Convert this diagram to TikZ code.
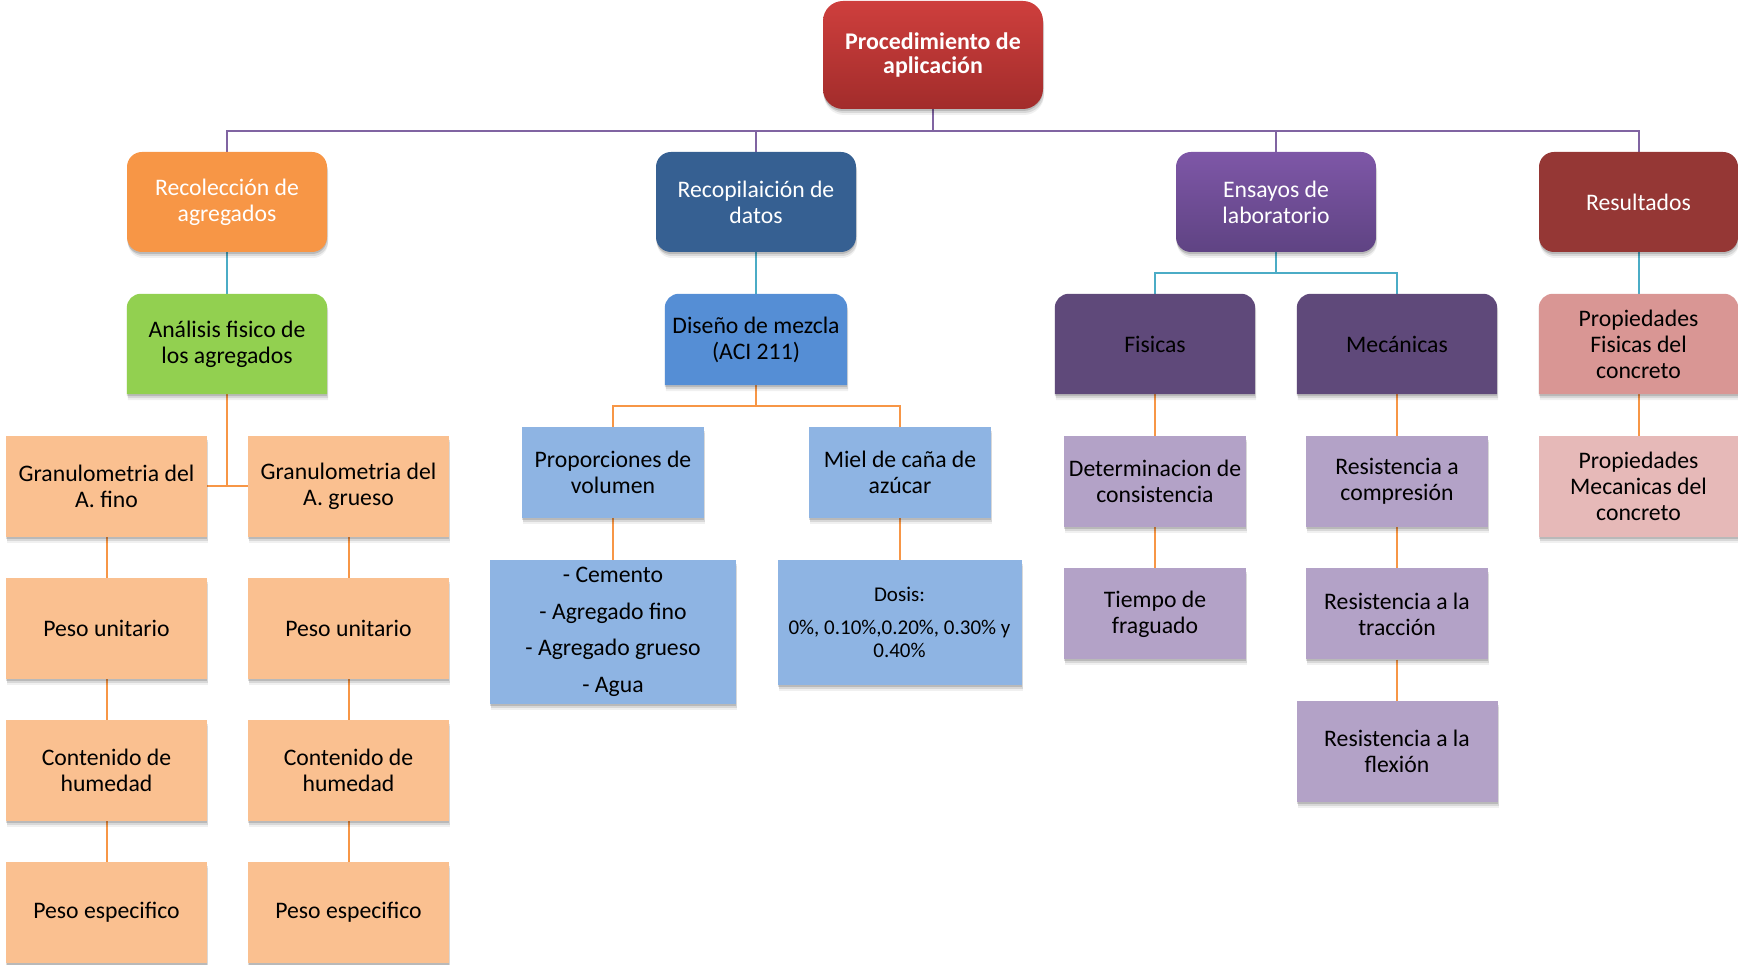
\documentclass[tikz,border=0pt]{standalone}
\usepackage{fontspec}
\setmainfont{Carlito}
\usetikzlibrary{shadows}

\pgfdeclarelayer{lines}
\pgfdeclarelayer{shapes}
\pgfsetlayers{lines,shapes,main}

% palette
\definecolor{titletop}{HTML}{CE3F3D}
\definecolor{titlebot}{HTML}{A22C2B}
\definecolor{recorange}{HTML}{F79646}
\definecolor{recblue}{HTML}{366092}
\definecolor{enstop}{HTML}{7E57A7}
\definecolor{ensbot}{HTML}{5F4383}
\definecolor{resred}{HTML}{953735}
\definecolor{anagreen}{HTML}{92D050}
\definecolor{disblue}{HTML}{558ED5}
\definecolor{darkpurple}{HTML}{5F497A}
\definecolor{pinkA}{HTML}{D99694}
\definecolor{pinkB}{HTML}{E6B9B8}
\definecolor{peach}{HTML}{FAC090}
\definecolor{paleblue}{HTML}{8EB4E3}
\definecolor{lavender}{HTML}{B3A2C7}
\definecolor{linepurple}{HTML}{8064A2}
\definecolor{linecyan}{HTML}{4BACC6}
\definecolor{lineorange}{HTML}{F79646}

\tikzset{
  softshadow/.style={
    drop shadow={shadow xshift=0pt,shadow yshift=-2pt,opacity=.14,fill=black},
    drop shadow={shadow xshift=1pt,shadow yshift=-4pt,opacity=.10,fill=black},
    drop shadow={shadow xshift=1pt,shadow yshift=-6pt,opacity=.06,fill=black}},
  box/.style={rectangle, inner sep=0pt, align=center, text=black,
    font=\fontsize{23.7}{26}\selectfont},
  headbox/.style={box, rounded corners=15pt, text=white, softshadow},
  flatbox/.style={box, fill=#1, softshadow},
  tabbox/.style={box},
  link/.style={line width=2pt},
  plink/.style={link, draw=linepurple},
  clink/.style={link, draw=linecyan},
  olink/.style={link, draw=lineorange},
}

% box with rounded top corners and square bottom corners
\newcommand\tabfill[2]{%
  \path[fill=#2, softshadow] (#1.south west)
    -- ([yshift=-14pt]#1.north west) arc[start angle=180,end angle=90,radius=14pt]
    -- ([xshift=-14pt]#1.north east) arc[start angle=90,end angle=0,radius=14pt]
    -- (#1.south east) -- cycle;}

\begin{document}
\begin{tikzpicture}[x=1pt,y=1pt]
\useasboundingbox (0,0) rectangle (1738,965);

% top
\node[box, rounded corners=20pt, text=white, softshadow,
      top color=titletop, bottom color=titlebot,
      minimum width=220, minimum height=108,
      font=\fontsize{23.9}{24}\selectfont\bfseries]
  (title) at (933,910) {Procedimiento de\\aplicación};

% first level
\node[headbox, fill=recorange, minimum width=200, minimum height=100] (rec) at (227,763) {Recolección de\\agregados};
\node[headbox, fill=recblue, minimum width=200, minimum height=100] (recop) at (756,763) {Recopilaición de\\datos};
\node[headbox, top color=enstop, bottom color=ensbot, minimum width=200, minimum height=100] (ens) at (1276,763) {Ensayos de\\laboratorio};
\node[headbox, fill=resred, minimum width=199, minimum height=100] (res) at (1638.5,763) {Resultados};

% second level (rounded top)
\node[tabbox, minimum width=200, minimum height=100] (ana) at (227,621) {Análisis fisico de\\los agregados};
\node[tabbox, minimum width=182, minimum height=91] (dis) at (756,625.5) {Diseño de mezcla\\(ACI 211)};
\node[tabbox, minimum width=200, minimum height=100] (fis) at (1155,621) {Fisicas};
\node[tabbox, minimum width=200, minimum height=100] (mec) at (1397,621) {Mecánicas};
\node[tabbox, minimum width=199, minimum height=100] (pfis) at (1638.5,621) {Propiedades\\Fisicas del\\concreto};

% aggregates
\node[flatbox=peach, minimum width=201, minimum height=101] (fino) at (106.5,478.5) {Granulometria del\\A. fino};
\node[flatbox=peach, minimum width=201, minimum height=101] (grueso) at (348.5,478.5) {Granulometria del\\A. grueso};
\node[flatbox=peach, minimum width=201, minimum height=101] (puA) at (106.5,336.5) {Peso unitario};
\node[flatbox=peach, minimum width=201, minimum height=101] (puB) at (348.5,336.5) {Peso unitario};
\node[flatbox=peach, minimum width=201, minimum height=101] (chA) at (106.5,194.5) {Contenido de\\humedad};
\node[flatbox=peach, minimum width=201, minimum height=101] (chB) at (348.5,194.5) {Contenido de\\humedad};
\node[flatbox=peach, minimum width=201, minimum height=101] (peA) at (106.5,52.5) {Peso especifico};
\node[flatbox=peach, minimum width=201, minimum height=101] (peB) at (348.5,52.5) {Peso especifico};

% mix design
\node[flatbox=paleblue, minimum width=182, minimum height=91] (prop) at (613,492.5) {Proporciones de\\volumen};
\node[flatbox=paleblue, minimum width=182, minimum height=91] (miel) at (900,492.5) {Miel de caña de\\azúcar};
\node[flatbox=paleblue, minimum width=246, minimum height=144,
      font=\fontsize{23.7}{36.7}\selectfont] (cem) at (613,333)
  {- Cemento\\- Agregado fino\\- Agregado grueso\\- Agua};
\node[flatbox=paleblue, minimum width=244, minimum height=125,
      font=\fontsize{21}{23}\selectfont] (dosis) at (899.5,342.5)
  {Dosis:\\[10pt]0\%, 0.10\%,0.20\%, 0.30\% y\\0.40\%};

% laboratory tests
\node[flatbox=lavender, minimum width=182, minimum height=91] (det) at (1155,483.5) {Determinacion de\\consistencia};
\node[flatbox=lavender, minimum width=182, minimum height=91] (tie) at (1155,351) {Tiempo de\\fraguado};
\node[flatbox=lavender, minimum width=182, minimum height=91] (comp) at (1397,483.5) {Resistencia a\\compresión};
\node[flatbox=lavender, minimum width=182, minimum height=91] (trac) at (1397,351) {Resistencia a la\\tracción};
\node[flatbox=lavender, minimum width=201, minimum height=101] (flex) at (1397,213.5) {Resistencia a la\\flexión};

% results
\node[flatbox=pinkB, minimum width=199, minimum height=101] (pmec) at (1638.5,478.5) {Propiedades\\Mecanicas del\\concreto};

\begin{pgfonlayer}{shapes}
  \tabfill{ana}{anagreen}
  \tabfill{dis}{disblue}
  \tabfill{fis}{darkpurple}
  \tabfill{mec}{darkpurple}
  \tabfill{pfis}{pinkA}
\end{pgfonlayer}

\begin{pgfonlayer}{lines}
  \coordinate (bar) at (0,834);
  \coordinate (ebar) at (0,692);
  \coordinate (dbar) at (0,559);
  % title to first level
  \draw[plink] (title.south) -- (title.south |- bar);
  \draw[plink] (rec.north) |- (res.north |- bar) -- (res.north);
  \draw[plink] (recop.north) -- (recop.north |- bar);
  \draw[plink] (ens.north) -- (ens.north |- bar);
  % first to second level
  \draw[clink] (rec.south) -- (ana.north);
  \draw[clink] (recop.south) -- (dis.north);
  \draw[clink] (ens.south) -- (ens.south |- ebar);
  \draw[clink] (fis.north) |- (mec.north |- ebar) -- (mec.north);
  \draw[clink] (res.south) -- (pfis.north);
  % aggregates
  \draw[olink] (ana.south) -- (ana.south |- fino.east);
  \draw[olink] (fino.east) -- (grueso.west);
  \draw[olink] (fino) -- (puA) -- (chA) -- (peA);
  \draw[olink] (grueso) -- (puB) -- (chB) -- (peB);
  % mix design
  \draw[olink] (dis.south) -- (dis.south |- dbar);
  \draw[olink] (prop.north) |- (miel.north |- dbar) -- (miel.north);
  \draw[olink] (prop.south) -- (prop.south |- cem.north);
  \draw[olink] (miel.south) -- (miel.south |- dosis.north);
  % tests and results
  \draw[olink] (fis.south) -- (det.north);
  \draw[olink] (det.south) -- (tie.north);
  \draw[olink] (mec.south) -- (comp.north);
  \draw[olink] (comp.south) -- (trac.north);
  \draw[olink] (trac.south) -- (flex.north);
  \draw[olink] (pfis.south) -- (pmec.north);
\end{pgfonlayer}
\end{tikzpicture}
\end{document}
